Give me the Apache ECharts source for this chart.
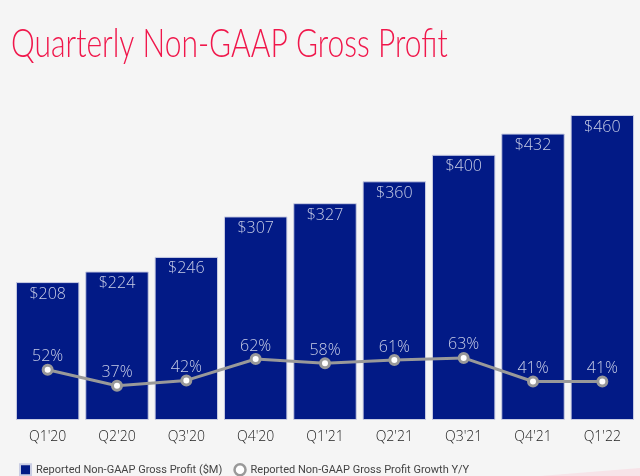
<!DOCTYPE html>
<html><head><meta charset="utf-8">
<script src="https://cdn.jsdelivr.net/npm/echarts@6/dist/echarts.min.js"></script>
<style>html,body{margin:0;padding:0;background:#f5f5f5}#c{width:640px;height:476px}</style>
</head><body><div id="c"></div>
<script>
var categories = ["Q1'20","Q2'20","Q3'20","Q4'20","Q1'21","Q2'21","Q3'21","Q4'21","Q1'22"];
var grossProfit = [208,224,246,307,327,360,400,432,460];
var growth = [52,37,42,62,58,61,63,41,41];

var chart = echarts.init(document.getElementById('c'));
chart.setOption({
  backgroundColor:'#f5f5f5',
  animation:false,
  graphic:[
    {type:'polygon',silent:true,z:-1,shape:{points:[[540,476],[640,468],[640,476]]},style:{fill:'#f7e3e8'}},
    {type:'text',left:11,top:25,scaleX:0.77,originX:0,
      style:{text:'Quarterly Non-GAAP Gross Profit',fill:'#f0174b',font:'300 39px Lato'}}
  ],
  legend:{left:14,top:458,itemWidth:11,itemHeight:11,itemGap:11,
    textStyle:{color:'#444',fontFamily:'Roboto',fontSize:11},
    data:[{name:'Reported Non-GAAP Gross Profit ($M)',icon:'rect'},
          {name:'Reported Non-GAAP Gross Profit Growth Y/Y',icon:'circle',itemStyle:{color:'#fff',borderColor:'#999',borderWidth:2.5}}]},
  grid:{left:13,right:3,top:115,bottom:56},
  xAxis:{type:'category',data:categories,axisLine:{show:false},axisTick:{show:false},
    axisLabel:{color:'#222',fontFamily:'Open Sans',fontWeight:300,fontSize:14,margin:10}},
  yAxis:[{type:'value',min:0,max:460,show:false},
         {type:'value',min:5,max:290,show:false}],
  series:[
    {name:'Reported Non-GAAP Gross Profit ($M)',type:'bar',data:grossProfit,barWidth:'91.5%',
      itemStyle:{color:'#021a86',borderColor:'#c9cde3',borderWidth:1},
      label:{show:true,position:'insideTop',distance:4,color:'#c8cde6',fontFamily:'Open Sans',fontWeight:300,fontSize:16,
        formatter:function(p){return '$'+p.value;}}},
    {name:'Reported Non-GAAP Gross Profit Growth Y/Y',type:'line',yAxisIndex:1,data:growth,
      symbol:'circle',symbolSize:9,lineStyle:{color:'#999',width:3},
      itemStyle:{color:'#fff',borderColor:'#999',borderWidth:3},
      label:{show:true,position:'top',distance:-1,color:'#c8cde6',fontFamily:'Open Sans',fontWeight:300,fontSize:16,
        formatter:function(p){return p.value+'%';}}}
  ]
});
</script></body></html>
